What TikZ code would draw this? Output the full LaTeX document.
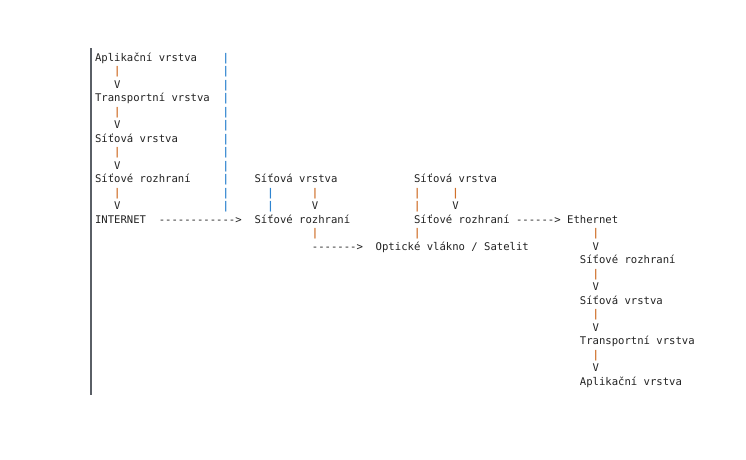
\documentclass[tikz,border=0pt]{standalone}
\usepackage{fontspec}
\newfontfamily\mono{DejaVu Sans Mono}
\newfontfamily\monob{DejaVu Sans Mono Bold}
\definecolor{txtgray}{HTML}{222222}
\definecolor{pipeor}{HTML}{D0702A}
\definecolor{pipebl}{HTML}{2F84D0}
\definecolor{bargray}{HTML}{5A5F66}
\tikzset{
  txt/.style={anchor=base west, inner sep=0pt, outer sep=0pt, font=\mono\fontsize{10.6}{12}\selectfont, text=txtgray},
  po/.style={txt, font=\monob\fontsize{10.6}{12}\selectfont, text=pipeor},
  pb/.style={txt, font=\monob\fontsize{10.6}{12}\selectfont, text=pipebl},
}
\newcommand\cx[1]{95+6.38*#1}
\newcommand\ry[1]{-61-13.5*#1}
\begin{document}
\begin{tikzpicture}[x=1pt,y=1pt]
\useasboundingbox (0,0) rectangle (746,-459);
\fill[white] (0,0) rectangle (746,-459);
% left bar
\coordinate (bartop) at (91,-48);
\coordinate (barbot) at (91,-395);
\draw[bargray, line width=1.6pt] (bartop) -- (barbot);
% left stack
\node[txt] (la1) at ({\cx{0}},{\ry{0}}) {Aplikační vrstva};
\node[po]  (lp1) at ({\cx{3}},{\ry{1}}) {|};
\node[txt] (lv1) at ({\cx{3}},{\ry{2}}) {V};
\node[txt] (lt1) at ({\cx{0}},{\ry{3}}) {Transportní vrstva};
\node[po]  (lp2) at ({\cx{3}},{\ry{4}}) {|};
\node[txt] (lv2) at ({\cx{3}},{\ry{5}}) {V};
\node[txt] (ls1) at ({\cx{0}},{\ry{6}}) {Síťová vrstva};
\node[po]  (lp3) at ({\cx{3}},{\ry{7}}) {|};
\node[txt] (lv3) at ({\cx{3}},{\ry{8}}) {V};
\node[txt] (lr1) at ({\cx{0}},{\ry{9}}) {Síťové rozhraní};
\node[po]  (lp4) at ({\cx{3}},{\ry{10}}) {|};
\node[txt] (lv4) at ({\cx{3}},{\ry{11}}) {V};
\node[txt] (inet) at ({\cx{0}},{\ry{12}}) {INTERNET};
\node[txt] (arr1) at ({\cx{10}},{\ry{12}}) {------------>};
% blue column
\foreach \r in {0,...,11} {
  \node[pb] (bp\r) at ({\cx{20}},{\ry{\r}}) {|};
}
% block 2
\node[txt] (b2s) at ({\cx{25}},{\ry{9}}) {Síťová vrstva};
\node[pb]  (b2p1) at ({\cx{27}},{\ry{10}}) {|};
\node[pb]  (b2p2) at ({\cx{27}},{\ry{11}}) {|};
\node[po]  (b2p3) at ({\cx{34}},{\ry{10}}) {|};
\node[txt] (b2v) at ({\cx{34}},{\ry{11}}) {V};
\node[txt] (b2r) at ({\cx{25}},{\ry{12}}) {Síťové rozhraní};
\node[po]  (b2p4) at ({\cx{34}},{\ry{13}}) {|};
\node[txt] (arr2) at ({\cx{34}},{\ry{14}}) {------->};
\node[txt] (opt) at ({\cx{44}},{\ry{14}}) {Optické vlákno / Satelit};
% block 3
\node[txt] (b3s) at ({\cx{50}},{\ry{9}}) {Síťová vrstva};
\node[po]  (b3p1) at ({\cx{50}},{\ry{10}}) {|};
\node[po]  (b3p2) at ({\cx{50}},{\ry{11}}) {|};
\node[po]  (b3p3) at ({\cx{56}},{\ry{10}}) {|};
\node[txt] (b3v) at ({\cx{56}},{\ry{11}}) {V};
\node[txt] (b3r) at ({\cx{50}},{\ry{12}}) {Síťové rozhraní};
\node[po]  (b3p4) at ({\cx{50}},{\ry{13}}) {|};
\node[txt] (arr3) at ({\cx{66}},{\ry{12}}) {------>};
\node[txt] (eth) at ({\cx{74}},{\ry{12}}) {Ethernet};
% right stack
\node[po]  (rp1) at ({\cx{78}},{\ry{13}}) {|};
\node[txt] (rv1) at ({\cx{78}},{\ry{14}}) {V};
\node[txt] (rr) at ({\cx{76}},{\ry{15}}) {Síťové rozhraní};
\node[po]  (rp2) at ({\cx{78}},{\ry{16}}) {|};
\node[txt] (rv2) at ({\cx{78}},{\ry{17}}) {V};
\node[txt] (rs) at ({\cx{76}},{\ry{18}}) {Síťová vrstva};
\node[po]  (rp3) at ({\cx{78}},{\ry{19}}) {|};
\node[txt] (rv3) at ({\cx{78}},{\ry{20}}) {V};
\node[txt] (rt) at ({\cx{76}},{\ry{21}}) {Transportní vrstva};
\node[po]  (rp4) at ({\cx{78}},{\ry{22}}) {|};
\node[txt] (rv4) at ({\cx{78}},{\ry{23}}) {V};
\node[txt] (ra) at ({\cx{76}},{\ry{24}}) {Aplikační vrstva};
\end{tikzpicture}
\end{document}
